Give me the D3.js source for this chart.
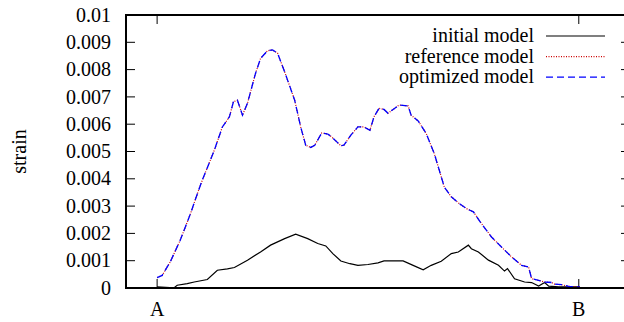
<!DOCTYPE html>
<html>
<head>
<meta charset="utf-8">
<script src="https://cdn.jsdelivr.net/npm/d3@7"></script>
<style>
	body { margin: 0; background: #fff; }
	text { font-family: "Liberation Serif", "Times New Roman", serif; font-size: 20px; fill: #000; }
</style>
</head>
<body>
<script>

// position along the path (A = 0, B = 420)
var refPos = [0, 5, 13, 23, 33, 41, 45, 57, 65, 72, 76, 80, 85, 90, 98, 103, 110, 115, 120, 127,
	137, 143, 148, 153, 157, 164, 170, 173, 183, 186, 193, 200, 206, 212, 216, 221, 226, 230, 235, 241,
	250, 253, 260, 268, 276, 281, 286, 293, 301, 308, 315, 323, 333, 343, 353, 363, 370, 373, 380, 386,
	393, 396, 403, 410, 416, 421];

// reference model strain
var referenceStrain = [0.00038, 0.00046, 0.00095, 0.00175, 0.00270, 0.00355, 0.00395, 0.00505, 0.00590, 0.00627,
	0.00682, 0.00688, 0.00633, 0.00677, 0.00786, 0.00841, 0.00869, 0.00872, 0.00860, 0.00792,
	0.00688, 0.00590, 0.00523, 0.00515, 0.00523, 0.00568, 0.00564, 0.00556, 0.00521, 0.00523,
	0.00560, 0.00590, 0.00590, 0.00578, 0.00627, 0.00658, 0.00654, 0.00640, 0.00654, 0.00670,
	0.00667, 0.00633, 0.00612, 0.00566, 0.00493, 0.00432, 0.00370, 0.00334, 0.00309, 0.00291,
	0.00279, 0.00236, 0.00187, 0.00150, 0.00114, 0.00083, 0.00077, 0.00034, 0.00028, 0.00022,
	0.00020, 0.00014, 0.00012, 0.00006, 0.00004, 0.00004];

// optimized model strain (lies on top of the reference)
var optimizedStrain = [0.00038, 0.00046, 0.00095, 0.00175, 0.00270, 0.00355, 0.00395, 0.00505, 0.00590, 0.00627,
	0.00682, 0.00688, 0.00633, 0.00677, 0.00786, 0.00841, 0.00869, 0.00872, 0.00860, 0.00792,
	0.00688, 0.00590, 0.00523, 0.00515, 0.00523, 0.00568, 0.00564, 0.00556, 0.00521, 0.00523,
	0.00560, 0.00590, 0.00590, 0.00578, 0.00627, 0.00658, 0.00654, 0.00640, 0.00654, 0.00670,
	0.00667, 0.00633, 0.00612, 0.00566, 0.00493, 0.00432, 0.00370, 0.00334, 0.00309, 0.00291,
	0.00279, 0.00236, 0.00187, 0.00150, 0.00114, 0.00083, 0.00077, 0.00034, 0.00028, 0.00022,
	0.00020, 0.00014, 0.00012, 0.00006, 0.00004, 0.00004];

// initial model
var initPos = [0, 17, 20, 30, 37, 50, 60, 70, 77, 90, 103, 113, 127, 138, 150, 160, 168, 175, 183, 192,
	200, 210, 220, 226, 245, 255, 265, 273, 283, 293, 300, 310, 313, 320, 330, 340, 346, 349, 356, 366,
	373, 380, 386, 390, 400, 410, 421];
var initialStrain = [0.00004, 0.00001, 0.00010, 0.00016, 0.00022, 0.00031, 0.00065, 0.00070, 0.00075, 0.00102,
	0.00132, 0.00157, 0.00181, 0.00197, 0.00181, 0.00163, 0.00154, 0.00126, 0.00099, 0.00089,
	0.00083, 0.00086, 0.00092, 0.00099, 0.00099, 0.00083, 0.00067, 0.00083, 0.00098, 0.00126,
	0.00132, 0.00157, 0.00144, 0.00132, 0.00102, 0.00083, 0.00062, 0.00071, 0.00034, 0.00022,
	0.00020, 0.00007, 0.00020, 0.00007, 0.00004, 0.00004, 0.00004];

// ticks
var xTickPos = [0, 420];
var xTickLabels = ["A", "B"];
var yTickValues = [0, 0.001, 0.002, 0.003, 0.004, 0.005, 0.006, 0.007, 0.008, 0.009, 0.01];
var yTickLabels = ["0", "0.001", "0.002", "0.003", "0.004", "0.005", "0.006", "0.007", "0.008", "0.009", "0.01"];
var legendNames = ["initial model", "reference model", "optimized model"];

// svg characteristics
var w = 624;
var h = 322;
var leftMargin = 126;
var rightEdge = 630; // right border lies just outside the picture
var topMargin = 15;
var bottomEdge = 288;
var tickLen = 9;

var svg = d3.select("body")
	.append("svg")
	.attr("width", w)
	.attr("height", h);

// scales
var scaleX = d3.scaleLinear()
	.domain([-31, 471])
	.range([leftMargin, rightEdge]);
var scaleY = d3.scaleLinear()
	.domain([0, 0.01])
	.range([bottomEdge, topMargin]);

// tick marks on all four sides (pointing inward like gnuplot)
var ticks = svg.append("g").attr("stroke", "#000").attr("stroke-width", 1);
yTickValues.forEach(function(v, i) {
	ticks.append("line")
		.attr("x1", leftMargin).attr("x2", leftMargin + tickLen)
		.attr("y1", scaleY(v)).attr("y2", scaleY(v));
	ticks.append("line")
		.attr("x1", rightEdge - tickLen).attr("x2", rightEdge)
		.attr("y1", scaleY(v)).attr("y2", scaleY(v));
	svg.append("text")
		.attr("x", leftMargin - 15)
		.attr("y", scaleY(v))
		.attr("dy", "0.33em")
		.style("text-anchor", "end")
		.text(yTickLabels[i]);
});
xTickPos.forEach(function(p, i) {
	ticks.append("line")
		.attr("x1", scaleX(p)).attr("x2", scaleX(p))
		.attr("y1", bottomEdge).attr("y2", bottomEdge - tickLen);
	ticks.append("line")
		.attr("x1", scaleX(p)).attr("x2", scaleX(p))
		.attr("y1", topMargin).attr("y2", topMargin + tickLen);
	svg.append("text")
		.attr("x", scaleX(p))
		.attr("y", 316)
		.style("text-anchor", "middle")
		.text(xTickLabels[i]);
});

// y axis label
svg.append("text")
	.attr("transform", "translate(26," + ((topMargin + bottomEdge) / 2) + ") rotate(-90)")
	.style("text-anchor", "middle")
	.text("strain");

// line generators
var lineRef = d3.line()
	.x(function(d, i) { return scaleX(refPos[i]); })
	.y(function(d) { return scaleY(d); });
var lineInit = d3.line()
	.x(function(d, i) { return scaleX(initPos[i]); })
	.y(function(d) { return scaleY(d); });

var styles = [
	{ color: "#000", dash: null, width: 1.2 },
	{ color: "#cc0000", dash: "1,1.5", width: 1.2 },
	{ color: "#0000ff", dash: "7,4", width: 1.3 }
];

svg.append("path")
	.attr("d", lineInit(initialStrain))
	.attr("fill", "none")
	.attr("stroke", styles[0].color)
	.attr("stroke-width", styles[0].width);
svg.append("path")
	.attr("d", lineRef(referenceStrain))
	.attr("fill", "none")
	.attr("stroke", styles[1].color)
	.attr("stroke-dasharray", styles[1].dash)
	.attr("stroke-width", styles[1].width);
svg.append("path")
	.attr("d", lineRef(optimizedStrain))
	.attr("fill", "none")
	.attr("stroke", styles[2].color)
	.attr("stroke-dasharray", styles[2].dash)
	.attr("stroke-width", styles[2].width);

// legend
legendNames.forEach(function(name, i) {
	var ly = 36 + i * 20.6;
	svg.append("text")
		.attr("x", 534)
		.attr("y", ly)
		.attr("dy", "0.3em")
		.style("text-anchor", "end")
		.text(name);
	svg.append("line")
		.attr("x1", 546).attr("x2", 605)
		.attr("y1", ly).attr("y2", ly)
		.attr("stroke", styles[i].color)
		.attr("stroke-width", styles[i].width)
		.attr("stroke-dasharray", styles[i].dash);
});

// border
svg.append("rect")
	.attr("x", leftMargin)
	.attr("y", topMargin)
	.attr("width", rightEdge - leftMargin)
	.attr("height", bottomEdge - topMargin)
	.attr("fill", "none")
	.attr("stroke", "#000")
	.attr("stroke-width", 2);

</script>
</body>
</html>
